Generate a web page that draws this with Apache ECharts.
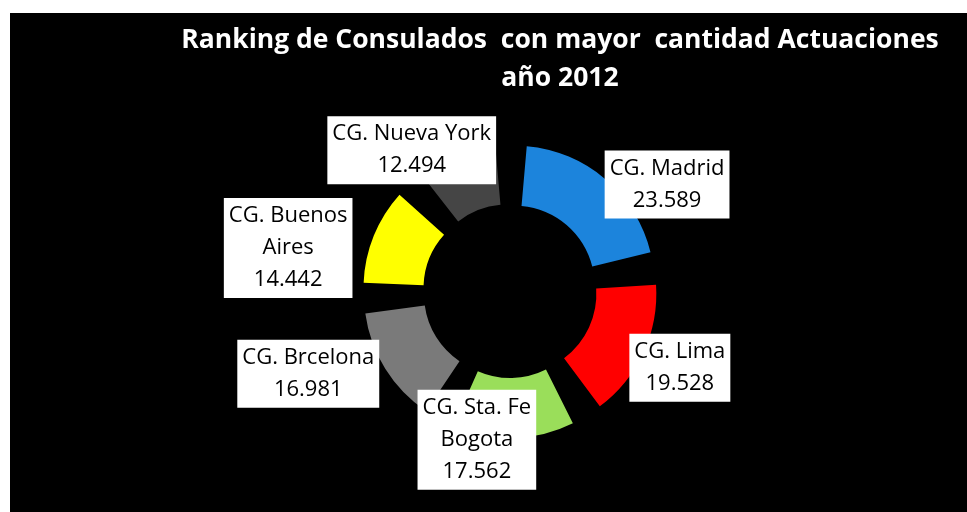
<!DOCTYPE html>
<html>
<head>
<meta charset="utf-8">
<script src="https://cdn.jsdelivr.net/npm/echarts@6/dist/echarts.min.js"></script>
<style>
html,body{margin:0;padding:0;background:#fff;}
#main{width:967px;height:512px;}
</style>
</head>
<body>
<div id="main"></div>
<script>
const titleLines = ['Ranking de Consulados  con mayor  cantidad Actuaciones', 'año 2012'];
const categories = ['CG. Madrid', 'CG. Lima', 'CG. Sta. Fe\nBogota', 'CG. Brcelona', 'CG. Buenos\nAires', 'CG. Nueva York'];
const values = [23589, 19528, 17562, 16981, 14442, 12494];
const colors = ['#1c84dc', '#ff0000', '#9ade5a', '#7a7a7a', '#ffff00', '#454545'];

function fmt(v) {
  return String(v).replace(/\B(?=(\d{3})+(?!\d))/g, '.');
}

// label nudges (dx, dy) per slice, in pixels
const labelNudges = [[-6, 5], [-15, 15], [-101, -3], [-1, 5], [-18, 4], [45, -4]];

const chart = echarts.init(document.getElementById('main'));
chart.setOption({
  animation: false,
  backgroundColor: '#ffffff',
  graphic: [{
    type: 'rect', z: -10,
    shape: {x: 10, y: 13, width: 957, height: 499},
    style: {fill: '#000000'}
  }],
  title: {
    text: titleLines.join('\n'),
    left: 555, top: 16, textAlign: 'center',
    textStyle: {color: '#ffffff', fontWeight: 'bold', fontSize: 26.5, lineHeight: 38, fontFamily: 'Open Sans'}
  },
  series: [{
    type: 'pie',
    center: [510, 291],
    radius: [80, 140],
    startAngle: 90,
    padAngle: 10,
    selectedMode: 'multiple',
    selectedOffset: 7,
    itemStyle: {borderWidth: 0},
    label: {
      show: true,
      position: 'outside',
      alignTo: 'none',
      backgroundColor: '#ffffff',
      color: '#000000',
      padding: [2, 5],
      fontSize: 22,
      lineHeight: 32,
      fontFamily: 'Open Sans',
      formatter: function (p) {
        const lines = p.name.split('\n').concat([fmt(p.value)]);
        return lines.map(s => '{a|' + s + '}').join('\n');
      },
      rich: {a: {align: 'center', fontSize: 22, lineHeight: 32, color: '#000', fontFamily: 'Open Sans'}}
    },
    labelLine: {show: false, length: 0, length2: 0},
    labelLayout: function (p) {
      const n = labelNudges[p.dataIndex];
      return {dx: n[0], dy: n[1]};
    },
    emphasis: {disabled: true},
    data: categories.map((c, i) => ({
      name: c, value: values[i], selected: true,
      itemStyle: {color: colors[i]}
    }))
  }]
});
</script>
</body>
</html>
